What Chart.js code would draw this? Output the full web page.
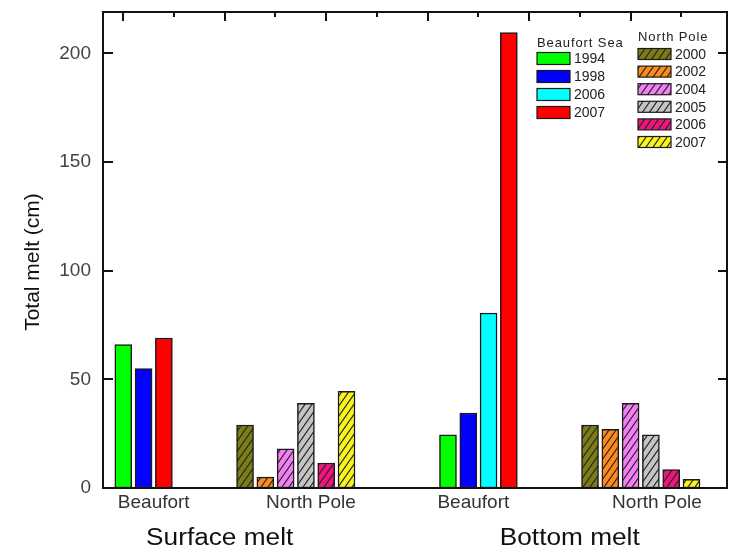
<!DOCTYPE html>
<html>
<head>
<meta charset="utf-8">
<title>Total melt</title>
<script src="https://cdn.jsdelivr.net/npm/chart.js@4.4.1/dist/chart.umd.min.js"></script>
<style>
  body { margin: 0; background: #fff; }
  canvas { display: block; }
</style>
</head>
<body>
<canvas id="meltChart" width="733" height="546"></canvas>
<script>
// melt per site and year, surface and bottom (cm)
var beaufortYears = ['1994', '1998', '2006', '2007'];
var beaufortSurface = [66, 55, null, 69];
var beaufortBottom = [24.5, 34.5, 80.5, 209.5];

var poleYears = ['2000', '2002', '2004', '2005', '2006', '2007'];
var poleSurface = [29, 5, 18, 39, 11.5, 44.5];
var poleBottom = [29, 27, 39, 24.5, 8.5, 4];

var categories = ['Beaufort', 'North Pole', 'Beaufort', 'North Pole'];
var meltTypes = ['Surface melt', 'Bottom melt'];
var yTicks = [0, 50, 100, 150, 200];

var beaufortColors = ['#00ff00', '#0000ff', '#00ffff', '#ff0000'];
var poleColors = ['#7d7d16', '#ff8a1c', '#f47ef4', '#c4c4c4', '#f0147c', '#f8f41c'];

var FONT = "'Liberation Sans', Arial, sans-serif";

// slot where each bar group starts on the x scale
var groupStart = [1, 7, 17, 24];
var categoryAt = [2.5, 10.25, 18.25, 27.3];
var meltAt = [5.75, 23];

function hatch(color) {
  var c = document.createElement('canvas');
  c.width = 7;
  c.height = 10;
  var g = c.getContext('2d');
  g.fillStyle = color;
  g.fillRect(0, 0, 7, 10);
  g.strokeStyle = '#262626';
  g.lineWidth = 1.2;
  g.beginPath();
  g.moveTo(0, 10); g.lineTo(7, 0);
  g.moveTo(-1, 1.43); g.lineTo(1, -1.43);
  g.moveTo(6, 11.43); g.lineTo(8, 8.57);
  g.stroke();
  return g.createPattern(c, 'repeat');
}

// place non-null values one after another from the group's first slot
function slots(values, start) {
  var out = [];
  var k = 0;
  values.forEach(function(v) {
    if (v === null) { out.push(null); return; }
    out.push(start + k);
    k++;
  });
  return out;
}

var bSurfX = slots(beaufortSurface, groupStart[0]);
var pSurfX = slots(poleSurface, groupStart[1]);
var bBotX = slots(beaufortBottom, groupStart[2]);
var pBotX = slots(poleBottom, groupStart[3]);

var datasets = [];
beaufortYears.forEach(function(year, i) {
  var pts = [];
  if (beaufortSurface[i] !== null) pts.push({ x: bSurfX[i], y: beaufortSurface[i] });
  pts.push({ x: bBotX[i], y: beaufortBottom[i] });
  datasets.push({
    label: year,
    site: 'Beaufort Sea',
    data: pts,
    backgroundColor: beaufortColors[i],
    swatch: beaufortColors[i],
    borderColor: '#1a1a1a',
    borderWidth: 1.5,
    borderSkipped: false
  });
});
poleYears.forEach(function(year, i) {
  var fill = hatch(poleColors[i]);
  datasets.push({
    label: year,
    site: 'North Pole',
    data: [{ x: pSurfX[i], y: poleSurface[i] }, { x: pBotX[i], y: poleBottom[i] }],
    backgroundColor: fill,
    swatch: fill,
    borderColor: '#1a1a1a',
    borderWidth: 1.5,
    borderSkipped: false
  });
});

var decorations = {
  id: 'decorations',
  afterDatasetsDraw: function(chart) {
    var ctx = chart.ctx;
    var a = chart.chartArea;
    var x = chart.scales.x;
    var y = chart.scales.y;
    ctx.save();

    // frame
    ctx.strokeStyle = '#111';
    ctx.lineWidth = 2;
    ctx.strokeRect(a.left, a.top, a.right - a.left, a.bottom - a.top);

    // inward ticks, left and right
    ctx.lineWidth = 2;
    ctx.beginPath();
    yTicks.forEach(function(v) {
      var py = Math.round(y.getPixelForValue(v));
      ctx.moveTo(a.left, py); ctx.lineTo(a.left + 10, py);
      ctx.moveTo(a.right, py); ctx.lineTo(a.right - 9, py);
    });
    ctx.stroke();

    // top ticks
    ctx.beginPath();
    for (var k = 0; k < 12; k++) {
      var px = Math.round(x.getPixelForValue(1 + 2.5 * k));
      ctx.moveTo(px, a.top);
      ctx.lineTo(px, a.top + (k % 2 === 0 ? 9 : 5));
    }
    ctx.stroke();

    // y title
    ctx.fillStyle = '#111';
    ctx.font = '21px ' + FONT;
    ctx.textAlign = 'center';
    ctx.textBaseline = 'middle';
    ctx.save();
    ctx.translate(33, 262);
    ctx.rotate(-Math.PI / 2);
    ctx.fillText('Total melt (cm)', 0, 0);
    ctx.restore();

    // surface / bottom labels
    ctx.font = '23px ' + FONT;
    ctx.textBaseline = 'alphabetic';
    meltTypes.forEach(function(t, i) {
      ctx.save();
      ctx.translate(x.getPixelForValue(meltAt[i]), 545);
      ctx.scale(1.14, 1);
      ctx.fillText(t, 0, 0);
      ctx.restore();
    });

    // two legend blocks
    drawLegend(ctx, chart, 'Beaufort Sea', 537, 47, 52.5, 18, 12);
    drawLegend(ctx, chart, 'North Pole', 638, 40.5, 48.5, 17.6, 11);

    ctx.restore();
  }
};

function drawLegend(ctx, chart, site, left, titleY, firstTop, step, boxH) {
  ctx.fillStyle = '#222';
  ctx.textAlign = 'left';
  ctx.textBaseline = 'alphabetic';
  ctx.font = '13px ' + FONT;
  ctx.letterSpacing = '0.9px';
  ctx.fillText(site, left, titleY);
  ctx.letterSpacing = '0px';
  ctx.font = '14px ' + FONT;
  ctx.textBaseline = 'middle';
  var row = 0;
  chart.data.datasets.forEach(function(ds) {
    if (ds.site !== site) return;
    var top = firstTop + row * step;
    ctx.fillStyle = ds.swatch;
    ctx.fillRect(left, top, 33, boxH);
    ctx.strokeStyle = '#1a1a1a';
    ctx.lineWidth = 1.2;
    ctx.strokeRect(left, top, 33, boxH);
    ctx.fillStyle = '#222';
    ctx.fillText(ds.label, left + 37, top + boxH / 2 + 1);
    row++;
  });
}

var ctx = document.getElementById('meltChart');
var meltChart = new Chart(ctx, {
  type: 'bar',
  data: { datasets: datasets },
  options: {
    responsive: false,
    animation: false,
    devicePixelRatio: 1,
    layout: { padding: { top: 12, right: 6, left: 0, bottom: 0 } },
    datasets: {
      bar: { grouped: false, barThickness: 17 }
    },
    plugins: {
      legend: { display: false },
      tooltip: { enabled: false }
    },
    scales: {
      x: {
        type: 'linear',
        min: 0,
        max: 30.75,
        offset: false,
        grid: { display: false, drawTicks: false },
        border: { display: false },
        afterBuildTicks: function(scale) {
          scale.ticks = categoryAt.map(function(v) { return { value: v }; });
        },
        afterFit: function(scale) {
          scale.height = 58;
          scale.paddingLeft = 0;
          scale.paddingRight = 0;
        },
        ticks: {
          autoSkip: false,
          maxRotation: 0,
          padding: 3,
          color: '#333',
          font: { family: FONT, size: 19 },
          callback: function(value, index) { return categories[index]; }
        }
      },
      y: {
        min: 0,
        max: 219,
        grid: { display: false, drawTicks: false },
        border: { display: false },
        afterBuildTicks: function(scale) {
          scale.ticks = yTicks.map(function(v) { return { value: v }; });
        },
        afterFit: function(scale) {
          scale.width = 103;
          scale.paddingTop = 0;
          scale.paddingBottom = 0;
        },
        ticks: {
          padding: 12,
          color: '#444',
          font: { family: FONT, size: 19 }
        }
      }
    }
  },
  plugins: [decorations]
});
</script>
</body>
</html>
